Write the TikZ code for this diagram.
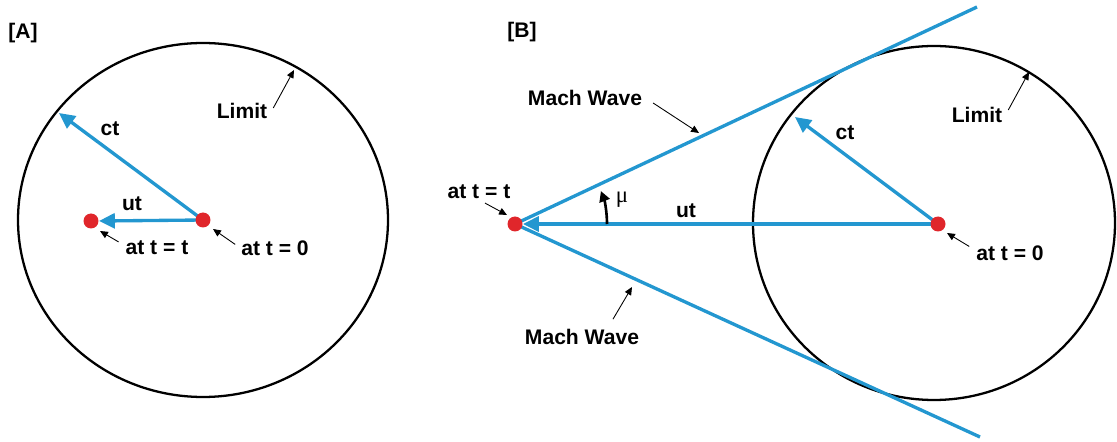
\documentclass[tikz,border=0pt]{standalone}
\usepackage{fontspec}
\setmainfont{Liberation Sans}
\newfontfamily\greekFont{Liberation Serif}
\usetikzlibrary{arrows.meta}

\begin{document}
\begin{tikzpicture}[x=0.02cm, y=-0.02cm,
    lbl/.style={font=\bfseries\fontsize{12}{14}\selectfont, inner sep=1pt},
    wave/.style={draw=waveBlue, line width=1.9pt},
    vec/.style={wave, -{Triangle[length=9pt,width=8.5pt]}},
    pointer/.style={black, line width=0.5pt, -{Triangle[length=4.5pt,width=4pt]}},
    limit/.style={draw=black, line width=1.3pt},
    dot/.style={circle, fill=dotRed, inner sep=0pt, minimum size=0.3cm}]

    \definecolor{waveBlue}{HTML}{2397D0}
    \definecolor{dotRed}{HTML}{E0262B}

    \useasboundingbox (0,0) rectangle (1117,442);

    % Panel A: source at rest
    \node[lbl] (tagA) at (23,33) {[A]};
    \draw[limit] (203,220) ellipse [x radius=185, y radius=177];

    \coordinate (ctEndA) at (59,113);
    \coordinate (utEndA) at (99,221);
    \draw[vec] (203,220) -- (ctEndA);
    \draw[vec] (203,220) -- (utEndA);
    \node[dot] (dotZeroA) at (203,220) {};
    \node[dot] (dotTA) at (91,221) {};

    \node[lbl] (ctA) at (110,129) {ct};
    \node[lbl] (utA) at (132,204) {ut};
    \node[lbl] (limA) at (242,111) {Limit};
    \node[lbl] (attA) at (157,248) {at t = t};
    \node[lbl] (at0A) at (275,248) {at t = 0};

    \coordinate (limTipA) at (294,70);
    \coordinate (attTipA) at (100,231);
    \coordinate (at0TipA) at (213,229);
    \draw[pointer] ([xshift=0.08cm,yshift=0.06cm]limA.east) -- (limTipA);
    \draw[pointer] ([xshift=-0.1cm,yshift=-0.06cm]attA.north west) -- (attTipA);
    \draw[pointer] ([xshift=-0.08cm,yshift=-0.12cm]at0A.north west) -- (at0TipA);

    % Panel B: source faster than sound
    \node[lbl] (tagB) at (522,32) {[B]};
    \draw[limit] (934,223) ellipse [x radius=181, y radius=177];

    % Mach waves
    \coordinate (waveTop) at (977,7);
    \coordinate (waveBot) at (980,437);
    \draw[wave] (515,224) -- (waveTop);
    \draw[wave] (515,224) -- (waveBot);

    \coordinate (ctEndB) at (795,117);
    \coordinate (utEndB) at (523,224);
    \draw[vec] (938,224) -- (ctEndB);
    \draw[vec] (938,224) -- (utEndB);
    \node[dot] (dotZeroB) at (938,224) {};
    \node[dot] (dotTB) at (515,224) {};

    % Mach angle
    \draw[black, line width=1.5pt, -{Triangle[length=6pt,width=6pt]}]
        (607,224) arc[start angle=0, end angle=-21, radius=92];
    \node[font=\greekFont\fontsize{13}{15}\selectfont, inner sep=1pt] (muB) at (622,200) {μ};

    \node[lbl] (ctB) at (845,133) {ct};
    \node[lbl] (utB) at (686,211) {ut};
    \node[lbl] (limB) at (977,115) {Limit};
    \node[lbl] (attB) at (479,192) {at t = t};
    \node[lbl] (at0B) at (1010,253) {at t = 0};
    \node[lbl] (machUp) at (585,98) {Mach Wave};
    \node[lbl] (machLow) at (582,337) {Mach Wave};

    \coordinate (limTipB) at (1029,72);
    \coordinate (attTipB) at (507,215);
    \coordinate (at0TipB) at (947,233);
    \coordinate (machUpTip) at (699,133);
    \coordinate (machLowTip) at (632,287);
    \draw[pointer] ([xshift=0.08cm,yshift=0.1cm]limB.east) -- (limTipB);
    \draw[pointer] ([xshift=0.12cm,yshift=-0.04cm]attB.south) -- (attTipB);
    \draw[pointer] ([xshift=-0.1cm,yshift=-0.06cm]at0B.north west) -- (at0TipB);
    \draw[pointer] ([xshift=0.18cm,yshift=-0.1cm]machUp.east) -- (machUpTip);
    \draw[pointer] ([xshift=0.62cm,yshift=0.16cm]machLow.north) -- (machLowTip);

\end{tikzpicture}
\end{document}
